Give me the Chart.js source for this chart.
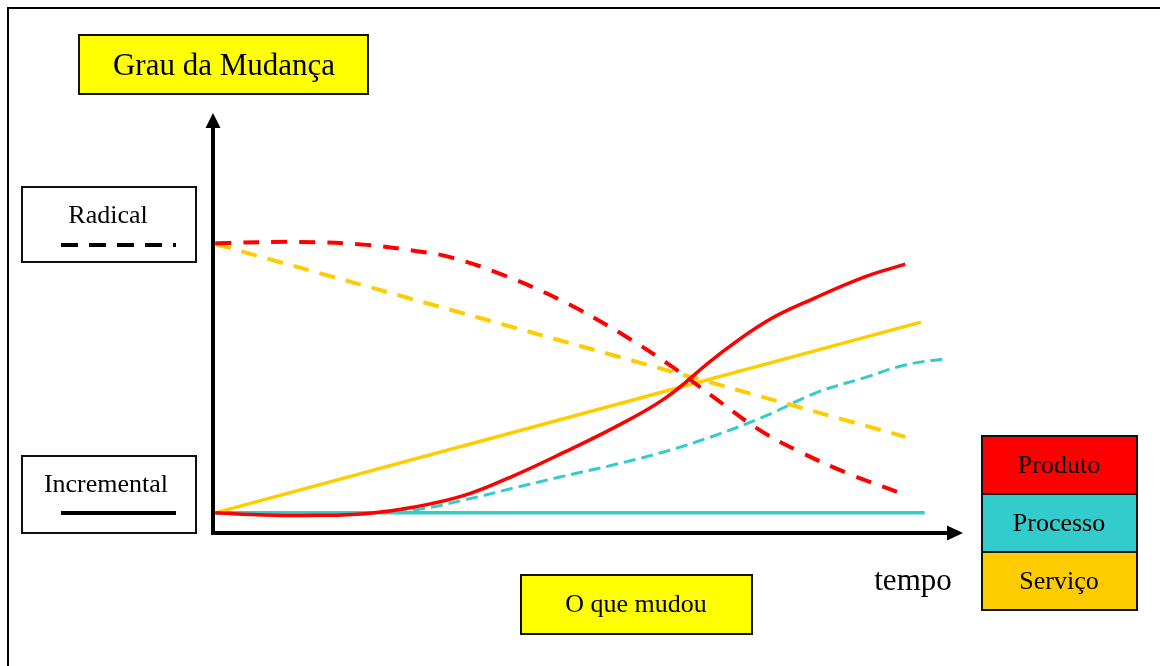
<!DOCTYPE html>
<html lang="pt">
<head>
    <meta charset="UTF-8">
    <title>Grau da Mudança</title>
    <script src="https://cdn.jsdelivr.net/npm/chart.js"></script>
    <style>
        body { margin: 0; background: #fff; }
    </style>
</head>
<body>
    <canvas id="mudancaChart" width="1160" height="666"></canvas>
    <script>
        // tempo (0-100) and grau da mudança (0-100) for each curve
        const produtoRadicalX = [0.3, 11.6, 20.5, 27.2, 31.6, 38.3, 46.3, 54.3, 61.3, 66.7, 72.9, 78.3, 84.9, 91.2];
        const produtoRadicalY = [69.0, 69.3, 68.6, 67.1, 65.7, 61.7, 55.5, 47.6, 39.5, 32.4, 24.5, 19.3, 14.0, 9.8];

        const produtoIncX = [0.3, 6.9, 13.6, 20.3, 26.9, 33.6, 40.3, 46.9, 53.6, 60.3, 66.9, 73.6, 80.3, 86.9, 92.3];
        const produtoIncY = [4.8, 4.3, 4.2, 4.6, 6.2, 9.0, 13.8, 19.3, 25.2, 32.1, 41.7, 50.2, 56.0, 61.0, 64.0];

        const servicoRadicalX = [0.3, 92.3];
        const servicoRadicalY = [68.8, 22.9];

        const servicoIncX = [0.3, 94.4];
        const servicoIncY = [4.8, 50.2];

        const processoRadicalX = [0.3, 6.9, 13.6, 20.3, 26.9, 33.6, 40.3, 46.9, 53.6, 60.3, 66.9, 73.6, 80.3, 86.9, 92.3, 97.3];
        const processoRadicalY = [4.8, 4.8, 4.8, 4.8, 5.5, 7.9, 10.8, 13.6, 16.3, 19.4, 23.2, 27.8, 33.3, 37.0, 40.0, 41.4];

        const processoIncX = [0.3, 94.9];
        const processoIncY = [4.8, 4.8];

        const legendLabels = ['Produto', 'Processo', 'Serviço'];
        const legendColors = ['#FF0000', '#33CCCC', '#FFCC00'];

        const toPoints = (xs, ys) => xs.map((x, i) => ({ x: x, y: ys[i] }));

        const serif = '"Liberation Serif", "Times New Roman", serif';

        function box(ctx, x, y, w, h, fill) {
            ctx.fillStyle = fill;
            ctx.fillRect(x, y, w, h);
            ctx.lineWidth = 2;
            ctx.strokeStyle = '#111';
            ctx.strokeRect(x, y, w, h);
        }

        function label(ctx, text, x, y, size) {
            ctx.fillStyle = '#000';
            ctx.font = size + 'px ' + serif;
            ctx.textAlign = 'center';
            ctx.textBaseline = 'alphabetic';
            ctx.fillText(text, x, y);
        }

        function sample(ctx, y, dash) {
            ctx.save();
            ctx.strokeStyle = '#000';
            ctx.lineWidth = 4;
            ctx.setLineDash(dash);
            ctx.beginPath();
            ctx.moveTo(61, y);
            ctx.lineTo(176, y);
            ctx.stroke();
            ctx.restore();
        }

        // frame, boxes, axis arrows and labels around the plot
        const diagramPlugin = {
            id: 'diagram',
            beforeDatasetsDraw(chart) {
                const ctx = chart.ctx;
                const a = chart.chartArea;
                ctx.save();

                ctx.lineWidth = 2;
                ctx.strokeStyle = '#000';
                ctx.strokeRect(8, 8, 1180, 700);

                box(ctx, 79, 35, 289, 59, '#FFFF00');
                label(ctx, 'Grau da Mudança', 224, 75, 31);

                box(ctx, 22, 187, 174, 75, '#FFFFFF');
                label(ctx, 'Radical', 108, 223, 26);
                sample(ctx, 245, [17, 11]);

                box(ctx, 22, 456, 174, 77, '#FFFFFF');
                label(ctx, 'Incremental', 106, 492, 26);
                sample(ctx, 513, []);

                box(ctx, 521, 575, 231, 59, '#FFFF00');
                label(ctx, 'O que mudou', 636, 612, 26);

                label(ctx, 'tempo', 913, 590, 31);

                legendLabels.forEach((t, i) => {
                    const top = 436 + i * 58;
                    box(ctx, 982, top, 155, 58, legendColors[i]);
                    label(ctx, t, 1059, top + 37, 26);
                });

                // axes with arrow heads
                ctx.strokeStyle = '#000';
                ctx.fillStyle = '#000';
                ctx.lineWidth = 4;
                ctx.lineJoin = 'miter';
                ctx.beginPath();
                ctx.moveTo(a.left, a.top + 15);
                ctx.lineTo(a.left, a.bottom);
                ctx.lineTo(a.right - 16, a.bottom);
                ctx.stroke();

                ctx.beginPath();
                ctx.moveTo(a.left, a.top);
                ctx.lineTo(a.left - 7.5, a.top + 15);
                ctx.lineTo(a.left + 7.5, a.top + 15);
                ctx.closePath();
                ctx.fill();

                ctx.beginPath();
                ctx.moveTo(a.right, a.bottom);
                ctx.lineTo(a.right - 16, a.bottom - 7.5);
                ctx.lineTo(a.right - 16, a.bottom + 7.5);
                ctx.closePath();
                ctx.fill();

                ctx.restore();
            }
        };

        const ctx = document.getElementById('mudancaChart').getContext('2d');
        new Chart(ctx, {
            type: 'line',
            data: {
                datasets: [
                    {
                        label: 'Produto radical',
                        data: toPoints(produtoRadicalX, produtoRadicalY),
                        borderColor: '#FF0000',
                        borderWidth: 4,
                        borderDash: [16, 12]
                    },
                    {
                        label: 'Produto incremental',
                        data: toPoints(produtoIncX, produtoIncY),
                        borderColor: '#FF0000',
                        borderWidth: 3.5
                    },
                    {
                        label: 'Serviço radical',
                        data: toPoints(servicoRadicalX, servicoRadicalY),
                        borderColor: '#FFCC00',
                        borderWidth: 4,
                        borderDash: [16, 11]
                    },
                    {
                        label: 'Serviço incremental',
                        data: toPoints(servicoIncX, servicoIncY),
                        borderColor: '#FFCC00',
                        borderWidth: 3.5
                    },
                    {
                        label: 'Processo radical',
                        data: toPoints(processoRadicalX, processoRadicalY),
                        borderColor: '#33CCCC',
                        borderWidth: 3,
                        borderDash: [12, 6]
                    },
                    {
                        label: 'Processo incremental',
                        data: toPoints(processoIncX, processoIncY),
                        borderColor: '#33CCCC',
                        borderWidth: 3.5
                    }
                ]
            },
            options: {
                responsive: false,
                animation: false,
                events: [],
                layout: {
                    padding: { left: 213, right: 197, top: 113, bottom: 133 }
                },
                elements: {
                    point: { radius: 0 },
                    line: { tension: 0.4, fill: false }
                },
                plugins: {
                    legend: { display: false },
                    tooltip: { enabled: false }
                },
                scales: {
                    x: { type: 'linear', min: 0, max: 100, display: false },
                    y: { type: 'linear', min: 0, max: 100, display: false }
                }
            },
            plugins: [diagramPlugin]
        });
    </script>
</body>
</html>
